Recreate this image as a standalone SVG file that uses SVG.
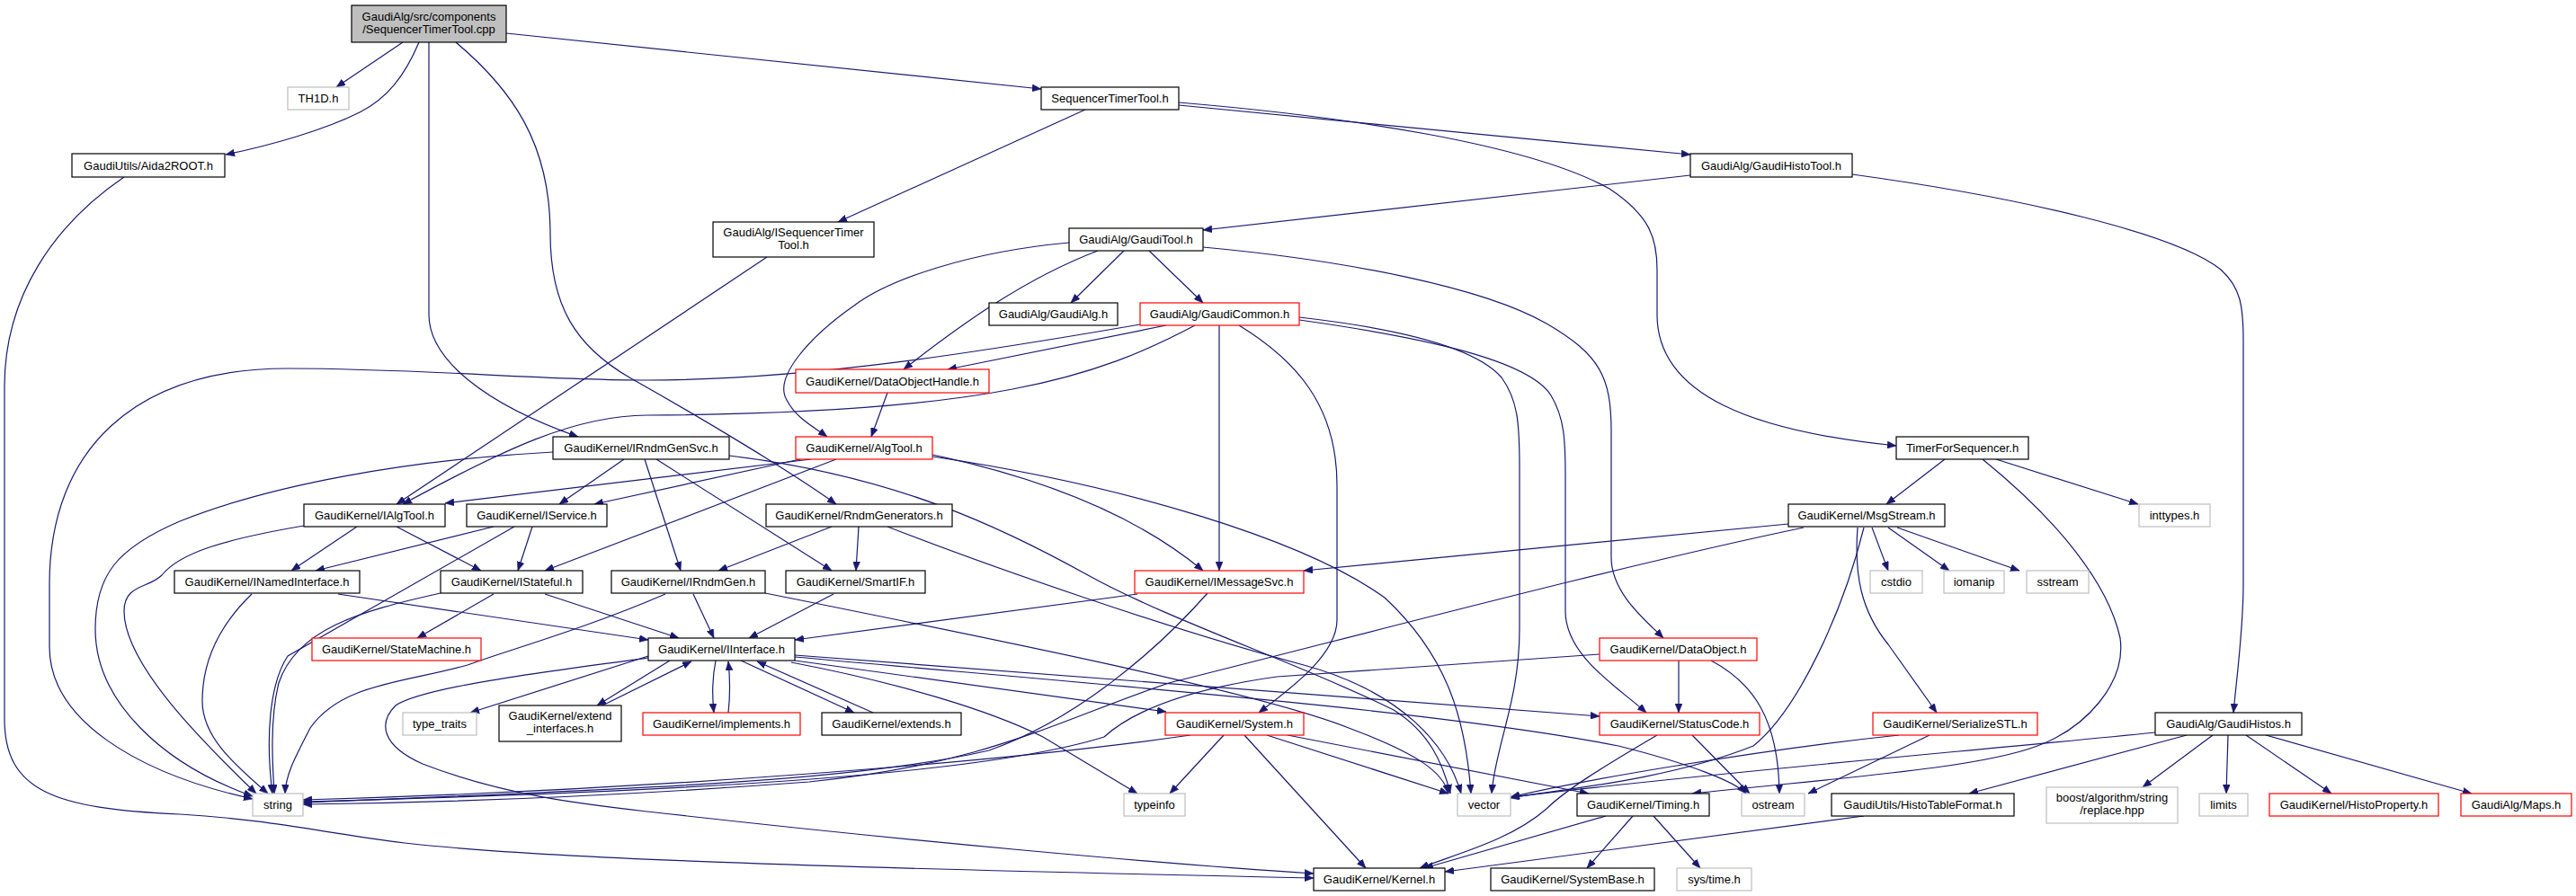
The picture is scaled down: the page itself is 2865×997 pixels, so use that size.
<svg xmlns="http://www.w3.org/2000/svg" width="2865" height="997" viewBox="0 0 2865 997">
<style>
rect{fill:#ffffff;stroke:#000000;stroke-width:1.2}
.r rect{stroke:#ff0000}
.g rect{stroke:#bfbfbf}
.root rect{fill:#bfbfbf;stroke:#000000}
text{font-family:"Liberation Sans",Arial,sans-serif;font-size:13px;fill:#000000;text-anchor:middle}
#edges path{fill:none;stroke:#191970;stroke-width:1.2;marker-end:url(#ah)}
</style>
<defs>
<marker id="ah" viewBox="0 0 10 8" refX="10" refY="4" markerWidth="10" markerHeight="8" orient="auto" markerUnits="userSpaceOnUse">
<path d="M0,0 L10,4 L0,8 z" fill="#191970" stroke="#191970" stroke-width="0.5"/>
</marker>
</defs>
<rect x="0" y="0" width="2865" height="997" style="fill:#ffffff;stroke:none"/>
<g id="edges">
<path d="M448,47 L374,97"/>
<path d="M466,47 C450,85 430,110 400,125 C360,145 300,162 251,172"/>
<path d="M477,47 L477,350 C477,400 540,450 643,486"/>
<path d="M507,47 C570,100 612,160 612,260 C612,340 640,385 700,420 C780,465 880,525 930,561"/>
<path d="M563,37 L1158,99"/>
<path d="M138,197 C60,250 5,330 5,430 L5,800 C5,880 60,900 200,906 C300,912 350,925 450,938 C600,955 900,965 1461,977"/>
<path d="M1207,122 L932,247"/>
<path d="M1311,117 L1880,172"/>
<path d="M1311,114 C1500,130 1700,160 1790,210 C1835,240 1843,265 1843,300 L1843,350 C1843,440 1950,480 2109,496"/>
<path d="M1880,195 L1338,256"/>
<path d="M2060,194 C2250,220 2420,260 2470,300 C2492,320 2495,340 2495,380 L2495,650 C2495,700 2488,750 2484,793"/>
<path d="M853,286 L441,561"/>
<path d="M1250,279 L1191,337"/>
<path d="M1278,279 L1338,337"/>
<path d="M1221,279 C1140,310 1070,360 1005,411"/>
<path d="M1189,270 C1080,280 990,310 950,340 C900,375 860,420 875,445 C885,465 905,475 920,486"/>
<path d="M1338,275 C1500,290 1650,320 1720,360 C1780,395 1792,420 1792,480 L1792,620 C1792,660 1830,690 1850,710"/>
<path d="M1268,361 C1100,390 900,423 720,423 C600,423 470,410 320,410 C150,410 55,500 55,650 L55,720 C55,800 150,860 281,889"/>
<path d="M1297,362 L1054,411"/>
<path d="M1329,362 C1220,420 1100,460 720,462 C640,462 560,500 448,561"/>
<path d="M1356,362 L1356,635"/>
<path d="M1378,362 C1440,400 1487,450 1487,540 L1487,690 C1487,730 1430,770 1400,793"/>
<path d="M1445,353 C1550,365 1640,385 1670,420 C1688,445 1690,470 1690,520 L1690,700 C1690,780 1663,830 1659,883"/>
<path d="M1445,356 C1580,375 1700,400 1725,440 C1740,465 1741,490 1741,530 L1741,680 C1741,730 1800,765 1831,793"/>
<path d="M987,437 L969,486"/>
<path d="M902,511 L495,560"/>
<path d="M890,511 L661,561"/>
<path d="M930,511 L606,635"/>
<path d="M1037,506 C1150,530 1260,570 1338,635"/>
<path d="M1037,508 C1250,540 1450,600 1540,665 C1610,730 1630,800 1636,883"/>
<path d="M694,511 L622,561"/>
<path d="M717,511 L757,635"/>
<path d="M730,511 L925,635"/>
<path d="M615,503 C450,512 300,540 200,580 C130,610 106,640 106,700 C106,780 180,850 281,886"/>
<path d="M811,507 C1000,530 1120,590 1210,640 C1300,690 1450,740 1550,790 C1590,815 1605,850 1613,883"/>
<path d="M925,586 L799,635"/>
<path d="M955,586 L952,635"/>
<path d="M987,586 C1100,630 1300,700 1450,740 C1560,770 1610,830 1625,883"/>
<path d="M397,586 L324,635"/>
<path d="M441,586 L535,635"/>
<path d="M338,585 C250,600 200,615 180,640 C165,655 138,650 138,680 C138,740 230,830 285,883"/>
<path d="M549,586 L351,635"/>
<path d="M592,586 L576,635"/>
<path d="M572,586 L320,730 C300,760 295,820 303,883"/>
<path d="M376,661 L721,712"/>
<path d="M280,661 C250,690 225,730 225,780 C225,820 260,850 298,883"/>
<path d="M549,661 L464,710"/>
<path d="M606,661 L755,710"/>
<path d="M490,660 C400,680 330,700 310,760 C300,800 303,850 305,883"/>
<path d="M771,661 L794,710"/>
<path d="M740,661 C650,700 560,725 520,740 C450,760 380,760 345,810 C330,840 318,860 317,883"/>
<path d="M851,660 C1100,710 1400,770 1500,810 C1580,840 1605,860 1611,883"/>
<path d="M927,661 L833,710"/>
<path d="M1265,661 L884,712"/>
<path d="M1343,660 C1290,720 1200,800 1100,835 C950,870 700,878 337,893"/>
<path d="M1989,583 L1450,635"/>
<path d="M2006,587 C1800,630 1500,710 1300,760 C1180,800 1100,850 900,870 C700,885 500,893 337,895"/>
<path d="M2073,587 C2050,680 2000,790 1950,830 C1850,870 1720,880 1680,888"/>
<path d="M2082,587 L2100,635"/>
<path d="M2100,587 L2168,635"/>
<path d="M2110,587 L2246,635"/>
<path d="M2066,587 C2062,640 2070,680 2100,717 L2154,793"/>
<path d="M2163,511 L2098,561"/>
<path d="M2220,511 L2378,561"/>
<path d="M2205,511 C2290,580 2345,650 2358,710 C2365,760 2320,810 2266,830 C2200,855 2050,865 1882,883"/>
<path d="M721,730 L523,793"/>
<path d="M721,732 C600,748 470,765 440,785 C420,805 425,830 470,850 C560,885 650,895 720,903 C1000,935 1300,962 1461,972"/>
<path d="M745,735 L664,785"/>
<path d="M670,785 L769,736"/>
<path d="M796,735 C792,755 792,775 794,793"/>
<path d="M810,793 C812,775 812,755 810,736"/>
<path d="M824,735 L950,793"/>
<path d="M971,793 L842,736"/>
<path d="M884,735 L1297,792"/>
<path d="M884,729 L1779,797"/>
<path d="M884,731 C1200,760 1600,790 1800,830 C1880,850 1930,870 1942,883"/>
<path d="M880,737 C1000,760 1100,790 1160,820 L1265,883"/>
<path d="M1324,818 C1100,850 700,880 337,890"/>
<path d="M1361,818 L1301,883"/>
<path d="M1384,818 L1519,966"/>
<path d="M1409,818 L1611,883"/>
<path d="M1432,818 L1767,883"/>
<path d="M1843,818 C1780,855 1740,880 1720,900 C1680,935 1620,950 1579,966"/>
<path d="M1882,818 L1946,883"/>
<path d="M1867,735 L1867,793"/>
<path d="M1903,735 C1950,760 1978,800 1979,883"/>
<path d="M1779,728 L1420,753 C1300,770 1250,800 1228,820 C1100,860 800,880 337,892"/>
<path d="M1786,908 L1584,966"/>
<path d="M1816,908 L1765,966"/>
<path d="M1839,908 L1891,966"/>
<path d="M2073,908 L1607,970"/>
<path d="M2112,818 C1950,835 1750,870 1680,887"/>
<path d="M2146,818 L2011,883"/>
<path d="M2397,815 C2200,835 1900,860 1680,887"/>
<path d="M2432,818 L2190,883"/>
<path d="M2461,818 L2383,876"/>
<path d="M2478,818 L2476,883"/>
<path d="M2498,818 L2593,883"/>
<path d="M2520,818 L2749,883"/>
</g>
<g id="n1" class="root"><rect x="391" y="6" width="172" height="41"/><text x="477" y="22.5">GaudiAlg/src/components</text><text x="477" y="36.5">/SequencerTimerTool.cpp</text></g>
<g id="n2" class="g"><rect x="320" y="97" width="68" height="25"/><text x="354" y="114">TH1D.h</text></g>
<g id="n3"><rect x="80" y="171" width="170" height="26"/><text x="165" y="188.5">GaudiUtils/Aida2ROOT.h</text></g>
<g id="n4"><rect x="1158" y="97" width="153" height="25"/><text x="1234.5" y="114">SequencerTimerTool.h</text></g>
<g id="n5"><rect x="793" y="247" width="179" height="39"/><text x="882.5" y="262.5">GaudiAlg/ISequencerTimer</text><text x="882.5" y="276.5">Tool.h</text></g>
<g id="n6"><rect x="1880" y="171" width="180" height="26"/><text x="1970" y="188.5">GaudiAlg/GaudiHistoTool.h</text></g>
<g id="n7"><rect x="1189" y="254" width="149" height="25"/><text x="1263.5" y="271">GaudiAlg/GaudiTool.h</text></g>
<g id="n8"><rect x="1100" y="337" width="143" height="25"/><text x="1171.5" y="354">GaudiAlg/GaudiAlg.h</text></g>
<g id="n9" class="r"><rect x="1268" y="337" width="177" height="25"/><text x="1356.5" y="354">GaudiAlg/GaudiCommon.h</text></g>
<g id="n10" class="r"><rect x="885" y="411" width="215" height="26"/><text x="992.5" y="428.5">GaudiKernel/DataObjectHandle.h</text></g>
<g id="n11" class="r"><rect x="885" y="486" width="152" height="25"/><text x="961" y="503">GaudiKernel/AlgTool.h</text></g>
<g id="n12"><rect x="615" y="486" width="196" height="25"/><text x="713" y="503">GaudiKernel/IRndmGenSvc.h</text></g>
<g id="n13"><rect x="2109" y="486" width="147" height="25"/><text x="2182.5" y="503">TimerForSequencer.h</text></g>
<g id="n14"><rect x="338" y="561" width="157" height="25"/><text x="416.5" y="578">GaudiKernel/IAlgTool.h</text></g>
<g id="n15"><rect x="519" y="561" width="156" height="25"/><text x="597" y="578">GaudiKernel/IService.h</text></g>
<g id="n16"><rect x="852" y="561" width="207" height="25"/><text x="955.5" y="578">GaudiKernel/RndmGenerators.h</text></g>
<g id="n17"><rect x="1989" y="561" width="174" height="25"/><text x="2076" y="578">GaudiKernel/MsgStream.h</text></g>
<g id="n18" class="g"><rect x="2379" y="561" width="79" height="25"/><text x="2418.5" y="578">inttypes.h</text></g>
<g id="n19"><rect x="194" y="635" width="206" height="25"/><text x="297" y="652">GaudiKernel/INamedInterface.h</text></g>
<g id="n20"><rect x="490" y="635" width="158" height="25"/><text x="569" y="652">GaudiKernel/IStateful.h</text></g>
<g id="n21"><rect x="680" y="635" width="171" height="25"/><text x="765.5" y="652">GaudiKernel/IRndmGen.h</text></g>
<g id="n22"><rect x="874" y="635" width="155" height="25"/><text x="951.5" y="652">GaudiKernel/SmartIF.h</text></g>
<g id="n23" class="r"><rect x="1262" y="635" width="188" height="25"/><text x="1356" y="652">GaudiKernel/IMessageSvc.h</text></g>
<g id="n24" class="g"><rect x="2080" y="635" width="58" height="25"/><text x="2109" y="652">cstdio</text></g>
<g id="n25" class="g"><rect x="2162" y="635" width="67" height="25"/><text x="2195.5" y="652">iomanip</text></g>
<g id="n26" class="g"><rect x="2254" y="635" width="69" height="25"/><text x="2288.5" y="652">sstream</text></g>
<g id="n27" class="r"><rect x="347" y="710" width="188" height="25"/><text x="441" y="727">GaudiKernel/StateMachine.h</text></g>
<g id="n28"><rect x="721" y="710" width="163" height="25"/><text x="802.5" y="727">GaudiKernel/IInterface.h</text></g>
<g id="n29" class="r"><rect x="1779" y="710" width="175" height="25"/><text x="1866.5" y="727">GaudiKernel/DataObject.h</text></g>
<g id="n30" class="g"><rect x="448" y="793" width="82" height="25"/><text x="489" y="810">type_traits</text></g>
<g id="n31"><rect x="555" y="785" width="136" height="40"/><text x="623" y="801">GaudiKernel/extend</text><text x="623" y="815">_interfaces.h</text></g>
<g id="n32" class="r"><rect x="715" y="793" width="175" height="25"/><text x="802.5" y="810">GaudiKernel/implements.h</text></g>
<g id="n33"><rect x="914" y="793" width="155" height="25"/><text x="991.5" y="810">GaudiKernel/extends.h</text></g>
<g id="n34" class="r"><rect x="1296" y="793" width="154" height="25"/><text x="1373" y="810">GaudiKernel/System.h</text></g>
<g id="n35" class="r"><rect x="1779" y="793" width="178" height="25"/><text x="1868" y="810">GaudiKernel/StatusCode.h</text></g>
<g id="n36" class="r"><rect x="2083" y="793" width="183" height="25"/><text x="2174.5" y="810">GaudiKernel/SerializeSTL.h</text></g>
<g id="n37"><rect x="2397" y="793" width="163" height="25"/><text x="2478.5" y="810">GaudiAlg/GaudiHistos.h</text></g>
<g id="n38" class="g"><rect x="281" y="883" width="56" height="25"/><text x="309" y="900">string</text></g>
<g id="n39" class="g"><rect x="1250" y="883" width="68" height="25"/><text x="1284" y="900">typeinfo</text></g>
<g id="n40" class="g"><rect x="1621" y="883" width="59" height="25"/><text x="1650.5" y="900">vector</text></g>
<g id="n41"><rect x="1754" y="883" width="147" height="25"/><text x="1827.5" y="900">GaudiKernel/Timing.h</text></g>
<g id="n42" class="g"><rect x="1937" y="883" width="70" height="25"/><text x="1972" y="900">ostream</text></g>
<g id="n43"><rect x="2037" y="883" width="203" height="25"/><text x="2138.5" y="900">GaudiUtils/HistoTableFormat.h</text></g>
<g id="n44" class="g"><rect x="2276" y="876" width="146" height="40"/><text x="2349" y="892">boost/algorithm/string</text><text x="2349" y="906">/replace.hpp</text></g>
<g id="n45" class="g"><rect x="2446" y="883" width="54" height="25"/><text x="2473" y="900">limits</text></g>
<g id="n46" class="r"><rect x="2524" y="883" width="188" height="25"/><text x="2618" y="900">GaudiKernel/HistoProperty.h</text></g>
<g id="n47" class="r"><rect x="2737" y="883" width="123" height="25"/><text x="2798.5" y="900">GaudiAlg/Maps.h</text></g>
<g id="n48"><rect x="1461" y="966" width="146" height="25"/><text x="1534" y="983">GaudiKernel/Kernel.h</text></g>
<g id="n49"><rect x="1658" y="966" width="182" height="25"/><text x="1749" y="983">GaudiKernel/SystemBase.h</text></g>
<g id="n50" class="g"><rect x="1865" y="966" width="83" height="25"/><text x="1906.5" y="983">sys/time.h</text></g>
</svg>
